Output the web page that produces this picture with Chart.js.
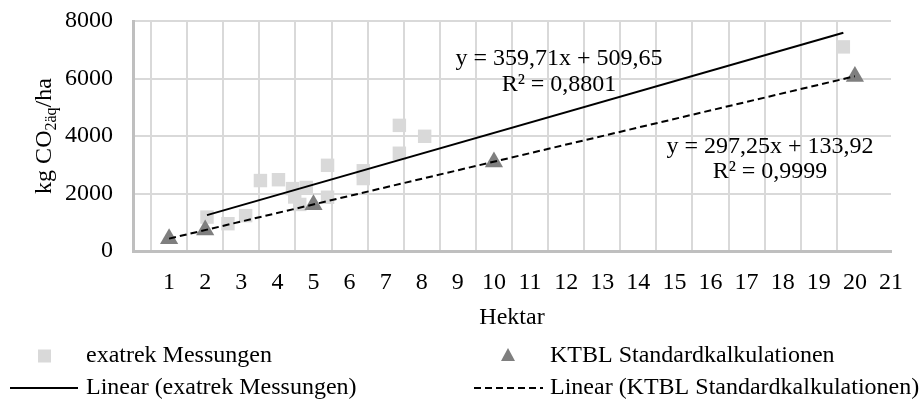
<!DOCTYPE html>
<html>
<head>
<meta charset="utf-8">
<script src="https://cdn.jsdelivr.net/npm/chart.js@4"></script>
<style>
  html, body { margin: 0; padding: 0; background: #fff; }
  #wrap { width: 920px; height: 403px; }
</style>
</head>
<body>
<div id="wrap"><canvas id="grafico"></canvas></div>
<script>
const exatrekX = [2.05, 2.63, 3.12, 3.53, 4.03, 4.42, 4.48, 4.62, 4.8, 5.39, 5.39, 6.38, 6.38, 7.38, 7.38, 8.08, 19.68];
const exatrekY = [1180, 950, 1230, 2450, 2480, 2170, 1880, 1620, 2210, 2980, 1870, 2790, 2520, 4370, 3400, 3990, 7100];
const ktblX = [1, 2, 5, 10, 20];
const ktblY = [430, 730, 1610, 3100, 6070];

// Trendlinien: Steigung, Achsenabschnitt
const trendExatrek = [359.71, 509.65];
const trendKtbl = [297.25, 133.92];

const xTicks = [1, 2, 3, 4, 5, 6, 7, 8, 9, 10, 11, 12, 13, 14, 15, 16, 17, 18, 19, 20, 21];
const yTicks = [0, 2000, 4000, 6000, 8000];

const FS = 24;
const FONT = "'Liberation Serif', 'Times New Roman', serif";

function punkte(xs, ys) {
  return xs.map((x, i) => ({ x, y: ys[i] }));
}

function trend(coef, xs) {
  const x0 = Math.min(...xs), x1 = Math.max(...xs);
  return [x0, x1].map(x => ({ x, y: coef[0] * x + coef[1] }));
}

// Texte, Legende und Achsentitel
const texte = {
  id: "texte",
  afterDraw(chart) {
    const ctx = chart.ctx;
    ctx.save();
    ctx.fillStyle = "#000";
    ctx.font = `${FS}px ${FONT}`;
    ctx.textBaseline = "middle";
    ctx.textAlign = "center";

    // Gleichungen
    ctx.fillText("y = 359,71x + 509,65", 559, 59);
    ctx.fillText("R² = 0,8801", 559, 85);
    ctx.fillText("y = 297,25x + 133,92", 770, 147);
    ctx.fillText("R² = 0,9999", 770, 172);

    // y-Achsentitel
    ctx.save();
    ctx.translate(51, (chart.chartArea.top + chart.chartArea.bottom) / 2);
    ctx.rotate(-Math.PI / 2);
    ctx.textAlign = "left";
    ctx.textBaseline = "alphabetic";
    const t1 = "kg CO", t2 = "2äq", t3 = "/ha";
    const klein = Math.round(FS * 0.65);
    ctx.font = `${FS}px ${FONT}`;
    const w1 = ctx.measureText(t1).width, w3 = ctx.measureText(t3).width;
    ctx.font = `${klein}px ${FONT}`;
    const w2 = ctx.measureText(t2).width;
    let x = -(w1 + w2 + w3) / 2;
    ctx.font = `${FS}px ${FONT}`;
    ctx.fillText(t1, x, 0);
    x += w1;
    ctx.font = `${klein}px ${FONT}`;
    ctx.fillText(t2, x, 5);
    x += w2;
    ctx.font = `${FS}px ${FONT}`;
    ctx.fillText(t3, x, 0);
    ctx.restore();

    // Legende
    ctx.textAlign = "left";
    const r1 = 356, r2 = 388;
    ctx.fillStyle = "#d9d9d9";
    ctx.fillRect(38, r1 - 6.5, 13, 13);
    ctx.fillStyle = "#7f7f7f";
    ctx.beginPath();
    ctx.moveTo(508, r1 - 8);
    ctx.lineTo(515, r1 + 5);
    ctx.lineTo(501, r1 + 5);
    ctx.closePath();
    ctx.fill();

    ctx.strokeStyle = "#000";
    ctx.lineWidth = 2;
    ctx.beginPath();
    ctx.moveTo(10, r2);
    ctx.lineTo(78, r2);
    ctx.stroke();
    ctx.setLineDash([7, 4]);
    ctx.beginPath();
    ctx.moveTo(474, r2);
    ctx.lineTo(543, r2);
    ctx.stroke();
    ctx.setLineDash([]);

    ctx.fillStyle = "#000";
    ctx.fillText("exatrek Messungen", 86, r1);
    ctx.fillText("KTBL Standardkalkulationen", 550, r1);
    ctx.fillText("Linear (exatrek Messungen)", 86, r2);
    ctx.fillText("Linear (KTBL Standardkalkulationen)", 550, r2);
    ctx.restore();
  }
};

const grafico = new Chart(document.getElementById("grafico"), {
  type: "scatter",
  data: {
    datasets: [
      {
        type: "line", label: "Linear (exatrek Messungen)", data: trend(trendExatrek, exatrekX),
        borderColor: "#000", borderWidth: 2, pointRadius: 0, fill: false, order: 0
      },
      {
        type: "line", label: "Linear (KTBL Standardkalkulationen)", data: trend(trendKtbl, ktblX),
        borderColor: "#000", borderWidth: 2, borderDash: [7, 4], pointRadius: 0, fill: false, order: 0
      },
      {
        label: "KTBL Standardkalkulationen", data: punkte(ktblX, ktblY),
        pointStyle: "triangle", pointRadius: 10.5, backgroundColor: "#7f7f7f", borderWidth: 0, order: 1
      },
      {
        label: "exatrek Messungen", data: punkte(exatrekX, exatrekY),
        pointStyle: "rect", pointRadius: 9.5, backgroundColor: "#d9d9d9", borderWidth: 0, order: 2
      }
    ]
  },
  options: {
    responsive: true,
    maintainAspectRatio: false,
    animation: false,
    layout: { padding: { top: 21, right: 13, bottom: 71, left: 0 } },
    plugins: { legend: { display: false }, tooltip: { enabled: false } },
    scales: {
      x: {
        type: "linear", min: 0, max: 21,
        afterBuildTicks: s => { s.ticks = xTicks.map(v => ({ value: v })); },
        afterFit: s => { s.height = 81; },
        ticks: { font: { family: FONT, size: FS }, color: "#000", padding: 17, autoSkip: false, maxRotation: 0 },
        grid: { display: false, drawTicks: false },
        border: { color: "#bfbfbf", width: 3 },
        title: { display: true, text: "Hektar", font: { family: FONT, size: FS }, color: "#000", padding: { top: 9, bottom: 0 } }
      },
      xg: {
        type: "linear", position: "bottom", min: 0, max: 21,
        afterBuildTicks: s => { s.ticks = xTicks.slice(0, -1).map(v => ({ value: v - 0.5 })); },
        afterFit: s => { s.height = 0; },
        ticks: { display: false },
        grid: { color: "#d9d9d9", lineWidth: 2, drawTicks: false },
        border: { display: false }
      },
      y: {
        min: 0, max: 8000,
        afterBuildTicks: s => { s.ticks = yTicks.map(v => ({ value: v })); },
        afterFit: s => { s.width = 133; s.paddingTop = 14; s.paddingBottom = 0; },
        ticks: { font: { family: FONT, size: FS }, color: "#000", padding: 20, callback: v => String(v) },
        grid: { color: "#d9d9d9", lineWidth: 2, drawTicks: false },
        border: { color: "#bfbfbf", width: 3 }
      }
    }
  },
  plugins: [texte]
});
</script>
</body>
</html>
